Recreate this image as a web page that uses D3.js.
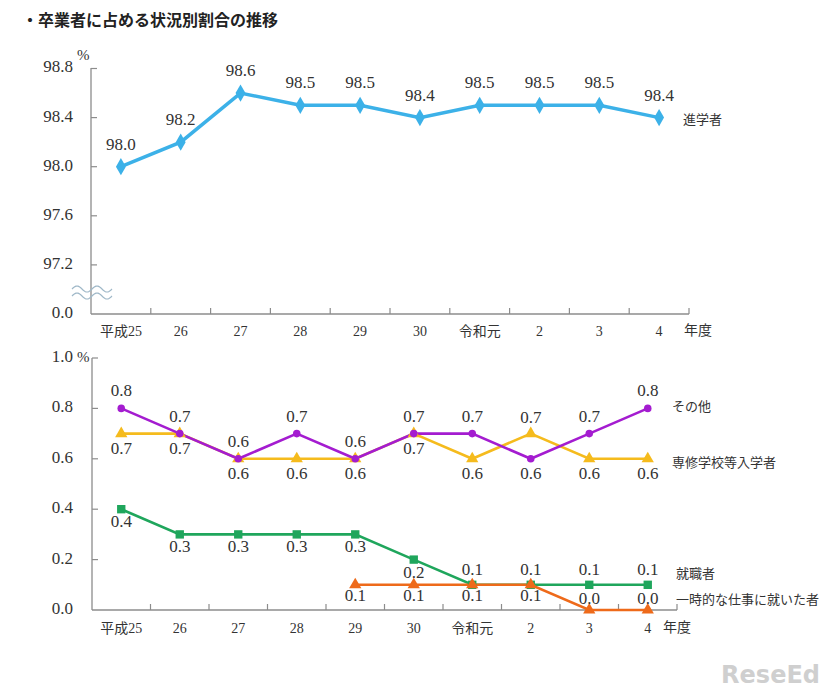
<!DOCTYPE html>
<html><head><meta charset="utf-8">
<script src="https://cdn.jsdelivr.net/npm/d3@7"></script>
<style>body{margin:0;background:#fff}svg{display:block}
text.num{font-family:"Liberation Serif",serif !important;}
</style>
</head><body>
<svg id="c" width="826" height="691"></svg>
<script>
// ---- data ----
const years = ["平成25","26","27","28","29","30","令和元","2","3","4"];
const shingaku = [98.0,98.2,98.6,98.5,98.5,98.4,98.5,98.5,98.5,98.4];
const sonota   = [0.8,0.7,0.6,0.7,0.6,0.7,0.7,0.6,0.7,0.8];
const senshu   = [0.7,0.7,0.6,0.6,0.6,0.7,0.6,0.7,0.6,0.6];
const shushoku = [0.4,0.3,0.3,0.3,0.3,0.2,0.1,0.1,0.1,0.1];
const ichiji   = [null,null,null,null,0.1,0.1,0.1,0.1,0.0,0.0];
const topTicks = [97.2,97.6,98.0,98.4,98.8];
const botTicks = [0.0,0.2,0.4,0.6,0.8,1.0];

const svg = d3.select("#c");
const JP = '"Noto Sans CJK JP", sans-serif';
const XF = '"Liberation Serif", "Noto Sans CJK JP", serif';
const axisCol = "#8c8c8c";
const fmt = d3.format(".1f");
const numText = (g)=>g.append("text").attr("class","num").style("font-family",'"Liberation Serif", serif')
  .style("font-size","17px").attr("fill","#333");
const jpText = (g,sz)=>g.append("text").style("font-family",JP).style("font-size",sz+"px").attr("fill","#333");

jpText(svg,16).attr("x",22).attr("y",26).attr("font-weight","bold").attr("fill","#222")
  .text("・卒業者に占める状況別割合の推移");

function drawAxes(g, x, x0, x1, y0, yTop, yearLabelY, nendoX) {
  g.append("line").attr("x1",x0).attr("x2",x0).attr("y1",yTop).attr("y2",y0).attr("stroke",axisCol).attr("stroke-width",1.3);
  g.append("line").attr("x1",x0).attr("x2",x1).attr("y1",y0).attr("y2",y0).attr("stroke",axisCol).attr("stroke-width",1.3);
  const bw = x.step();
  for (let i=1;i<=years.length;i++){
    const xx = x0 + i*bw;
    g.append("line").attr("x1",xx).attr("x2",xx).attr("y1",y0).attr("y2",y0-6).attr("stroke",axisCol).attr("stroke-width",1.2);
  }
  years.forEach(d=>{
    g.append("text").style("font-family",XF).style("font-size","14px").attr("fill","#333")
      .attr("x",x(d)+bw/2).attr("y",yearLabelY).attr("text-anchor","middle").attr("dominant-baseline","middle").text(d);
  });
  jpText(g,14).attr("x",nendoX).attr("y",yearLabelY-2).attr("dominant-baseline","middle").text("年度");
}

// ---------- top chart ----------
const gT = svg.append("g");
const xT = d3.scaleBand().domain(years).range([91,689]);
const yT = d3.scaleLinear().domain([96.8,98.8]).range([314,68.5]);
drawAxes(gT, xT, 91, 689, 314, 68, 333, 684);
topTicks.forEach(t=>{
  gT.append("line").attr("x1",91).attr("x2",97).attr("y1",yT(t)).attr("y2",yT(t)).attr("stroke",axisCol).attr("stroke-width",1.2);
  numText(gT).attr("x",73).attr("y",yT(t)).attr("text-anchor","end").attr("dominant-baseline","middle").text(fmt(t));
});
numText(gT).attr("x",73).attr("y",314).attr("text-anchor","end").attr("dominant-baseline","middle").text("0.0");
numText(gT).attr("x",77).attr("y",60).style("font-size","15px").text("%");
// break marks
const wave = (y0)=>{ const pts=d3.range(0,41,1).map(i=>[72+i, y0-3*Math.sin(i/40*2*Math.PI*2)]); return d3.line()(pts); };
gT.append("path").attr("d",wave(289)).attr("fill","none").attr("stroke","#9fb8c8").attr("stroke-width",1.2);
gT.append("path").attr("d",wave(296)).attr("fill","none").attr("stroke","#9fb8c8").attr("stroke-width",1.2);

const cxT = d=>xT(d)+xT.bandwidth()/2;
const blue = "#3cb1e8";
gT.append("path").datum(shingaku).attr("fill","none").attr("stroke",blue).attr("stroke-width",3.5)
  .attr("d",d3.line().x((d,i)=>cxT(years[i])).y(d=>yT(d)));
gT.selectAll(".dm").data(shingaku).enter().append("path")
  .attr("d",d3.symbol(d3.symbolDiamond,85)).attr("fill",blue)
  .attr("transform",(d,i)=>`translate(${cxT(years[i])},${yT(d)})`);
shingaku.forEach((d,i)=>{
  numText(gT).attr("x",cxT(years[i])).attr("y",yT(d)-21).attr("text-anchor","middle").attr("dominant-baseline","middle").text(fmt(d));
});
jpText(gT,13).attr("x",683).attr("y",120).attr("dominant-baseline","middle").text("進学者");

// ---------- bottom chart ----------
const gB = svg.append("g");
const xB = d3.scaleBand().domain(years).range([92,677]);
const yB = d3.scaleLinear().domain([0,1.0]).range([610,358]);
drawAxes(gB, xB, 92, 677, 610, 358, 630, 663);
botTicks.forEach(t=>{
  if (t>0) gB.append("line").attr("x1",92).attr("x2",98).attr("y1",yB(t)).attr("y2",yB(t)).attr("stroke",axisCol).attr("stroke-width",1.2);
  numText(gB).attr("x",73).attr("y",yB(t)).attr("text-anchor","end").attr("dominant-baseline","middle").text(fmt(t));
});
numText(gB).attr("x",77).attr("y",362).style("font-size","15px").text("%");
const cxB = d=>xB(d)+xB.bandwidth()/2;

const series = [
  {name:"就職者", vals:shushoku, color:"#1fa65c", sym:d3.symbolSquare, size:70, lx:676, ly:574,
   side:["b","b","b","b","b","b","a","a","a","a"], off:{a:-14,b:14}},
  {name:"一時的な仕事に就いた者", vals:ichiji, color:"#ee6a1a", sym:d3.symbolTriangle, size:65, lx:676, ly:600,
   side:["b","b","b","b","b","b","b","b","a","a"], off:{a:-10,b:12}},
  {name:"専修学校等入学者", vals:senshu, color:"#f5bb1d", sym:d3.symbolTriangle, size:65, lx:672, ly:463,
   side:null, off:{a:-15,b:16}},
  {name:"その他", vals:sonota, color:"#a41cd0", sym:d3.symbolCircle, size:45, lx:672, ly:407,
   side:null, off:{a:-16,b:16}},
];
series[2].side = senshu.map((v,i)=> v>sonota[i] ? "a" : "b");
series[3].side = sonota.map((v,i)=> v<senshu[i] ? "b" : "a");

series.forEach(s=>{
  const pts = s.vals.map((v,i)=>({v,i})).filter(p=>p.v!==null);
  gB.append("path").datum(pts).attr("fill","none").attr("stroke",s.color).attr("stroke-width",2.6)
    .attr("d",d3.line().x(p=>cxB(years[p.i])).y(p=>yB(p.v)));
});
series.forEach(s=>{
  const pts = s.vals.map((v,i)=>({v,i})).filter(p=>p.v!==null);
  gB.selectAll(null).data(pts).enter().append("path")
    .attr("d",d3.symbol(s.sym,s.size)).attr("fill",s.color)
    .attr("transform",p=>`translate(${cxB(years[p.i])},${yB(p.v)})`);
  pts.forEach(p=>{
    numText(gB).attr("x",cxB(years[p.i])).attr("y",yB(p.v)+s.off[s.side[p.i]])
      .attr("text-anchor","middle").attr("dominant-baseline","middle").text(fmt(p.v));
  });
  jpText(gB,13).attr("x",s.lx).attr("y",s.ly).attr("dominant-baseline","middle").text(s.name);
});

// watermark
svg.append("text").attr("x",820).attr("y",683).attr("text-anchor","end").style("font-family",'"DejaVu Sans", sans-serif')
  .style("font-size","24px").attr("font-weight","bold").attr("fill","#cfcfcf").text("ReseEd");
</script>
</body></html>
